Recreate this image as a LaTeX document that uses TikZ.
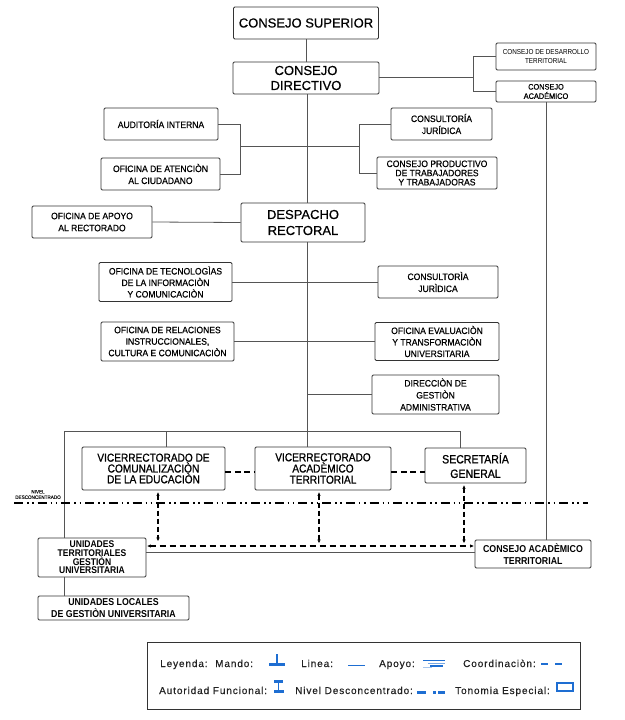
\documentclass[tikz,border=0pt]{standalone}
\usepackage{fontspec}
\setmainfont{Liberation Sans}
\newfontfamily\tfont[FakeBold=0.6]{Liberation Sans}
\newfontfamily\cnd[FakeStretch=0.92,FakeBold=0.5]{Liberation Sans}
\newfontfamily\cndv[FakeStretch=0.88,FakeBold=0.9]{Liberation Sans}
\newfontfamily\cndn[FakeStretch=0.88]{Liberation Sans}
\newfontfamily\lgd[LetterSpace=9,FakeBold=0.6]{Liberation Sans}
\usetikzlibrary{arrows.meta}
\newcommand\fsz[2]{\fontsize{#1}{#2}\selectfont}
\definecolor{boxc}{HTML}{333333}
\definecolor{lnc}{HTML}{555555}
\definecolor{txtc}{HTML}{000000}
\definecolor{lgblue}{RGB}{30,110,210}
\definecolor{lgtxt}{HTML}{222222}
\tikzset{
  box/.style={draw=boxc, line width=0.8pt, rounded corners=1.2pt, fill=white, align=center, inner sep=0pt, text=txtc},
  ln/.style={draw=lnc, line width=0.8pt},
  coordln/.style={draw=black, line width=2.6pt, dash pattern=on 6pt off 3.5pt},
  nivel/.style={draw=black, line width=2.4pt, dash pattern=on 9pt off 4pt on 1.6pt off 3.5pt on 1.6pt off 4pt},
  varrow/.style={draw=black, line width=1.4pt, dash pattern=on 5pt off 3pt, {Stealth[length=3.5pt,width=3.2pt]}-{Stealth[length=3.5pt,width=3.2pt]}},
  hdash/.style={draw=black, line width=1.5pt, dash pattern=on 6pt off 4pt, {Stealth[length=3.5pt,width=3.2pt]}-{Stealth[length=3.5pt,width=3.2pt]}},
  lgtext/.style={anchor=base west, text=lgtxt, font=\lgd\fsz{10}{12}, inner sep=0pt},
  lgsym/.style={draw=lgblue},
}
\begin{document}
\begin{tikzpicture}[x=1pt,y=-1pt]
\useasboundingbox (0,0) rectangle (624,720);
% ---------- boxes ----------
\node[box, minimum width=145pt, minimum height=32pt, font=\tfont\fsz{13}{15}] (sup) at (306,23) {CONSEJO SUPERIOR};
\node[box, minimum width=146pt, minimum height=32pt, font=\tfont\fsz{13}{15}] (dir) at (306,78) {CONSEJO\\DIRECTIVO};
\node[box, minimum width=100pt, minimum height=27pt, font=\cndn\fsz{7.2}{9}] (desa) at (546,56.5) {CONSEJO DE DESARROLLO\\TERRITORIAL};
\node[box, minimum width=100pt, minimum height=21pt, font=\cnd\fsz{8}{9.3}] (acad) at (546,91.5) {CONSEJO\\ACADÉMICO};
\node[box, minimum width=114pt, minimum height=32pt, font=\cnd\fsz{9.3}{12}] (aud) at (161,124) {AUDITORÍA INTERNA};
\node[box, minimum width=119pt, minimum height=32pt, font=\cnd\fsz{9.3}{12}] (aten) at (160.5,174) {OFICINA DE ATENCIÒN\\AL CIUDADANO};
\node[box, minimum width=101pt, minimum height=32pt, font=\cnd\fsz{9.3}{12}] (cons1) at (441.5,124) {CONSULTORÍA\\JURÍDICA};
\node[box, minimum width=120pt, minimum height=32pt, font=\cnd\fsz{9.3}{9.2}] (prod) at (437,173) {CONSEJO PRODUCTIVO\\DE TRABAJADORES\\Y TRABAJADORAS};
\node[box, minimum width=120pt, minimum height=32pt, font=\cnd\fsz{9.3}{12}] (apoyo) at (92,222) {OFICINA DE APOYO\\AL RECTORADO};
\node[box, minimum width=124pt, minimum height=39pt, font=\tfont\fsz{13}{16}] (desp) at (303,222.5) {DESPACHO\\RECTORAL};
\node[box, minimum width=133pt, minimum height=39pt, font=\cnd\fsz{9.3}{11.5}] (tec) at (165.5,282) {OFICINA DE TECNOLOGÌAS\\DE LA INFORMACIÒN\\Y COMUNICACIÒN};
\node[box, minimum width=120pt, minimum height=32pt, font=\cnd\fsz{9.3}{12}] (cons2) at (438,282) {CONSULTORÌA\\JURÌDICA};
\node[box, minimum width=133pt, minimum height=39pt, font=\cnd\fsz{9.3}{11.5}] (rel) at (167.5,341.5) {OFICINA DE RELACIONES\\INSTRUCCIONALES,\\CULTURA E COMUNICACIÒN};
\node[box, minimum width=124pt, minimum height=38pt, font=\cnd\fsz{9.3}{11.5}] (eval) at (437,341.5) {OFICINA EVALUACIÒN\\Y TRANSFORMACIÒN\\UNIVERSITARIA};
\node[box, minimum width=127pt, minimum height=39pt, font=\cnd\fsz{9.3}{12}] (direc) at (435.5,394.5) {DIRECCIÒN DE\\GESTIÒN\\ADMINISTRATIVA};
\node[box, minimum width=143pt, minimum height=43pt, font=\cndv\fsz{11.5}{10.8}] (vcom) at (153.5,468.5) {VICERRECTORADO DE\\COMUNALIZACIÒN\\DE LA EDUCACIÒN};
\node[box, minimum width=136pt, minimum height=43pt, font=\cndv\fsz{11.5}{11.2}] (vac) at (323,468.5) {VICERRECTORADO\\ACADÈMICO\\TERRITORIAL};
\node[box, minimum width=101pt, minimum height=35pt, font=\cndv\fsz{12}{14.5}] (sec) at (475.5,465.5) {SECRETARÍA\\GENERAL};
\node[box, minimum width=108pt, minimum height=39pt, font=\cndn\bfseries\fsz{9.7}{8.7}] (ut) at (92,557.5) {UNIDADES\\TERRITORIALES\\GESTIÒN\\UNIVERSITARIA};
\node[box, minimum width=116pt, minimum height=28pt, font=\cndn\bfseries\fsz{10}{12.3}] (cat) at (533,554) {CONSEJO ACADÈMICO\\TERRITORIAL};
\node[box, minimum width=151pt, minimum height=24pt, font=\cndn\bfseries\fsz{10}{12.3}] (ul) at (113.5,608) {UNIDADES LOCALES\\DE GESTIÒN UNIVERSITARIA};
\node[font=\cnd\fsz{5}{5.5}, text=lgtxt, align=center, inner sep=0pt] (nivlab) at (38,494.5) {NIVEL\\DESCONCENTRADO};
% ---------- coordinates ----------
\coordinate (mv) at (307,0);
\coordinate (tl) at (64,431);
\coordinate (tc) at (166,431);
\coordinate (tr) at (460,431);
\coordinate (rb) at (473,77);
\coordinate (lb) at (240,146);
\coordinate (rb2) at (359,146);
\coordinate (a1) at (158,541);
\coordinate (a2) at (319,543);
\coordinate (a3) at (464,543);
\coordinate (hd) at (0,546);
\coordinate (hs) at (0,552);
\coordinate (cy) at (0,472);
\coordinate (n1) at (14,503);
\coordinate (n2) at (588,503);
% ---------- connectors ----------
\draw[ln] (sup.south) -- (dir.north);
\draw[ln] (mv |- dir.south) -- (mv |- desp.north);
\draw[ln] (mv |- desp.south) -- (mv |- vac.north);
\draw[ln] (dir.east |- rb) -- (rb);
\draw[ln] (rb |- desa.west) -- (rb |- acad.west);
\draw[ln] (rb |- desa.west) -- (desa.west);
\draw[ln] (rb |- acad.west) -- (acad.west);
\draw[ln] (aud.east) -| (lb |- aten.east) -- (aten.east);
\draw[ln] (lb) -- (rb2);
\draw[ln] (cons1.west) -| (rb2 |- prod.west) -- (prod.west);
\draw[ln] (apoyo.east) -- (desp.west);
\draw[ln] (tec.east) -- (cons2.west);
\draw[ln] (rel.east) -- (eval.west);
\draw[ln] (direc.west) -- (mv |- direc.west);
\draw[ln] (tl) -- (tr);
\draw[ln] (tc) -- (tc |- vcom.north);
\draw[ln] (tr) -- (tr |- sec.north);
\draw[ln] (tl) -- (tl |- ut.north);
\draw[ln] (tl |- ut.south) -- (tl |- ul.north);
\draw[ln] (acad.south) -- (acad.south |- cat.north);
\draw[ln] (ut.east |- hs) -- (cat.west |- hs);
\draw[hdash, shorten <=1pt, shorten >=1pt] (ut.east |- hd) -- (cat.west |- hd);
\draw[coordln] (vcom.east |- cy) -- (vac.west |- cy);
\draw[coordln] (vac.east |- cy) -- (sec.west |- cy);
\draw[nivel] (n1) -- (n2);
\draw[varrow, shorten <=2pt] (a1 |- vcom.south) -- (a1);
\draw[varrow, shorten <=2pt] (a2 |- vac.south) -- (a2);
\draw[varrow, shorten <=2pt] (a3 |- sec.south) -- (a3);
% ---------- legend ----------
\node[draw=boxc, line width=1pt, minimum width=433pt, minimum height=67pt, inner sep=0pt] (leg) at (363.5,675.5) {};
\node[lgtext] (l1) at (160,667) {Leyenda:};
\node[lgtext] (l2) at (215,667) {Mando:};
\node[lgtext] (l3) at (301,667) {Linea:};
\node[lgtext] (l4) at (379,667) {Apoyo:};
\node[lgtext] (l5) at (463,667) {Coordinaciòn:};
\node[lgtext] (l6) at (159,694) {Autoridad Funcional:};
\node[lgtext] (l7) at (295,694) {Nivel Desconcentrado:};
\node[lgtext] (l8) at (455,694) {Tonomia Especial:};
% Mando
\draw[lgsym, line width=3pt] (269,664) -- (285,664);
\draw[lgsym, line width=1.6pt] (277,654) -- (277,664);
% Linea
\draw[lgsym, line width=1pt] (348,665) -- (365,665);
% Apoyo
\draw[lgsym, line width=0.9pt] (423,660.5) -- (445,660.5);
\draw[lgsym, line width=0.6pt, draw=lgblue!60] (428,663) -- (445,663);
\draw[lgsym, line width=2.6pt] (430,666) -- (443,666);
\draw[lgsym, line width=0.6pt, draw=lgblue!40] (423,667.5) -- (432,667.5);
% Coordinacion
\draw[lgsym, line width=2.6pt] (541,664) -- (548,664);
\draw[lgsym, line width=2.6pt] (555,664) -- (562,664);
% Autoridad funcional
\draw[lgsym, line width=3pt] (274,681) -- (283,681);
\draw[lgsym, line width=1.6pt] (278.5,681) -- (278.5,691.5);
\draw[lgsym, line width=3pt] (274,691.5) -- (284,691.5);
% Nivel desconcentrado
\draw[lgsym, line width=3pt] (417,692) -- (426,692);
\draw[lgsym, line width=3pt] (433,692) -- (435.5,692);
\draw[lgsym, line width=3pt] (438,692) -- (445,692);
% Tonomia especial
\draw[lgsym, line width=1.3pt] (557,683) rectangle (573,691);
\end{tikzpicture}
\end{document}
